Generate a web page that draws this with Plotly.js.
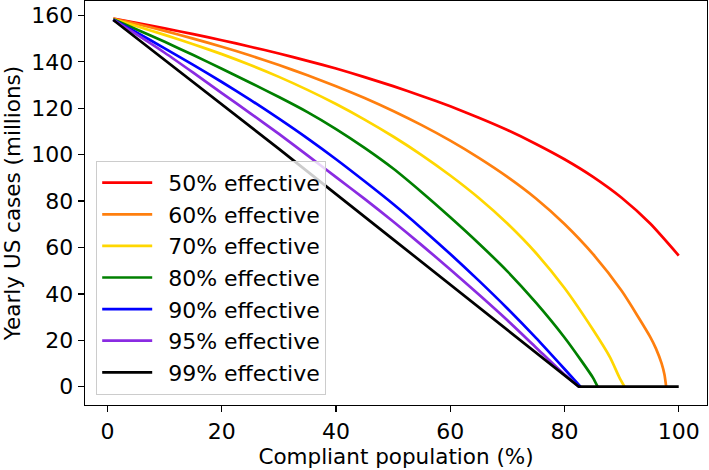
<!DOCTYPE html>
<html>
<head>
<meta charset="utf-8">
<script src="https://cdn.plot.ly/plotly-3.0.1.min.js"></script>
<style>html,body{margin:0;padding:0;background:#fff;}#chart{width:709px;height:470px;}</style>
</head>
<body>
<div id="chart"></div>
<script>
// Series (x = compliant population %, y = yearly US cases, millions)
const seriesNames = ["50% effective","60% effective","70% effective","80% effective","90% effective","95% effective","99% effective"];
const seriesColors = ["#ff0000","#ff7f0e","#ffd700","#008000","#0000ff","#8a2be2","#000000"];

const x50 = [1, 5, 10, 15, 20, 25, 30, 35, 40, 45, 50, 55, 60, 65, 70, 75, 80, 85, 90, 95, 100];
const y50 = [158.6, 156.8, 154.4, 151.9, 149.3, 146.5, 143.6, 140.4, 137.1, 133.4, 129.5, 125.3, 120.8, 115.9, 110.6, 104.6, 98.0, 90.4, 81.4, 70.3, 56.5];

const x60 = [1, 5, 10, 15, 20, 25, 30, 35, 40, 45, 50, 55, 60, 65, 70, 75, 80, 85, 90, 95, 96, 97, 97.5, 97.8];
const y60 = [158.5, 156.4, 153.3, 150.0, 146.5, 142.7, 138.6, 134.2, 129.5, 124.4, 118.8, 112.7, 106.0, 98.6, 90.4, 81.1, 70.1, 57.1, 41.3, 21.5, 16.5, 10.0, 5.2, 0];

const x70 = [1, 5, 10, 15, 20, 25, 30, 35, 40, 45, 50, 55, 60, 65, 70, 75, 80, 85, 88, 89.6, 90.5];
const y70 = [158.4, 155.4, 151.6, 147.6, 143.3, 138.6, 133.5, 127.9, 121.8, 115.1, 107.8, 99.8, 91.0, 81.3, 70.3, 57.6, 42.5, 24.5, 12.5, 4.0, 0];

const x80 = [1, 5, 10, 15, 20, 25, 30, 35, 40, 45, 50, 55, 60, 65, 70, 75, 80, 83, 85, 85.8];
const y80 = [158.3, 154.0, 148.6, 142.9, 137.0, 131.0, 124.8, 118.3, 111.0, 102.9, 94.0, 83.8, 73.0, 61.7, 49.7, 36.2, 21.2, 11.0, 3.8, 0];

const x90 = [1, 5, 10, 15, 20, 25, 30, 35, 40, 45, 50, 55, 60, 65, 70, 75, 80, 82.8];
const y90 = [158.2, 152.8, 145.8, 138.7, 131.3, 123.6, 115.5, 107.0, 98.0, 88.5, 78.7, 68.2, 57.2, 45.7, 33.7, 21.0, 7.6, 0];

const x95 = [1, 5, 10, 15, 20, 25, 30, 35, 40, 45, 50, 55, 60, 65, 70, 75, 80, 82.5];
const y95 = [158.1, 151.9, 143.9, 135.3, 126.5, 117.8, 108.9, 99.7, 90.3, 80.9, 71.2, 61.0, 50.5, 39.7, 28.6, 16.9, 5.2, 0];

const x99 = [1, 30, 50, 70, 82.5, 100];
const y99 = [158.0, 102.5, 63.5, 24.5, 0, 0];

const xTicks = [0, 20, 40, 60, 80, 100];
const yTicks = [0, 20, 40, 60, 80, 100, 120, 140, 160];

const xs = [x50, x60, x70, x80, x90, x95, x99];
const ys = [y50, y60, y70, y80, y90, y95, y99];

const traces = xs.map((xv, i) => ({
  x: xv, y: ys[i], type: "scatter", mode: "lines",
  name: "\u2002" + seriesNames[i], legendgroup: "g" + i,
  line: {color: seriesColors[i], width: 2.7,
         shape: i === 6 ? "linear" : "spline", smoothing: 0.6}
}));

const FONT = "DejaVu Sans, sans-serif";
const layout = {
  width: 709, height: 470,
  margin: {l: 85, r: 2, t: 1, b: 65},
  paper_bgcolor: "#ffffff", plot_bgcolor: "#ffffff",
  font: {family: FONT, size: 22, color: "#000"},
  showlegend: true,
  legend: {
    x: 0.018, y: 0.025, xanchor: "left", yanchor: "bottom",
    bgcolor: "rgba(255,255,255,0.8)", bordercolor: "#cccccc", borderwidth: 1,
    font: {family: FONT, size: 22, color: "#000"},
    itemwidth: 50, tracegroupgap: 7, traceorder: "normal"
  },
  xaxis: {
    range: [-3.95, 104.95], tickvals: xTicks, ticktext: xTicks.map(String),
    showgrid: false, zeroline: false, showline: true, mirror: true,
    linecolor: "#000", linewidth: 1.3, ticks: "outside", ticklen: 6, tickwidth: 1.3, tickcolor: "#000",
    title: {text: "Compliant population (%)", font: {family: FONT, size: 21.5}, standoff: 6},
    tickfont: {family: FONT, size: 22}
  },
  yaxis: {
    range: [-7.9, 166.2], tickvals: yTicks, ticktext: yTicks.map(String),
    showgrid: false, zeroline: false, showline: true, mirror: true,
    linecolor: "#000", linewidth: 1.3, ticks: "outside", ticklen: 6, tickwidth: 1.3, tickcolor: "#000",
    title: {text: "Yearly US cases (millions)", font: {family: FONT, size: 21.5}, standoff: 6},
    tickfont: {family: FONT, size: 22}
  }
};

Plotly.newPlot("chart", traces, layout, {staticPlot: true, displayModeBar: false});
</script>
</body>
</html>
